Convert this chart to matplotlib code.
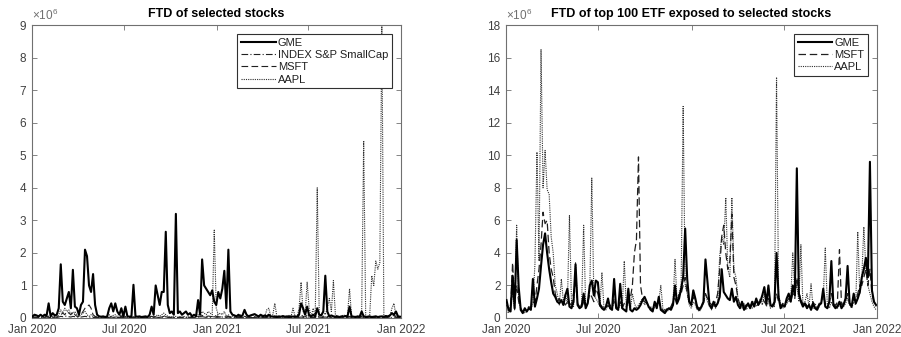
import numpy as np
import pandas as pd
import matplotlib
matplotlib.use("Agg")
import matplotlib.pyplot as plt
import matplotlib.dates as mdates

plt.rcParams['font.family'] = ['Liberation Sans', 'DejaVu Sans']
plt.rcParams['mathtext.fontset'] = 'custom'
plt.rcParams['mathtext.rm'] = 'Liberation Sans'

# sampling dates (every 4 days), values in millions of shares
dates = pd.date_range("2020-01-02", periods=183, freq="4D")

# ---- left panel: FTD of selected stocks
gme_left = [
    0.05, 0.1, 0.08, 0.05, 0.1, 0.05, 0.1, 0.08, 0.45, 0.05,
    0.15, 0.08, 0.1, 0.3, 1.65, 0.5, 0.4, 0.6, 0.8, 0.3,
    1.48, 0.35, 0.3, 0.1, 0.4, 0.5, 2.1, 1.9, 1.0, 0.8,
    1.35, 0.4, 0.1, 0.05, 0.04, 0.05, 0.03, 0.05, 0.3, 0.45,
    0.2, 0.45, 0.2, 0.1, 0.3, 0.05, 0.35, 0.05, 0.04, 0.05,
    1.02, 0.05, 0.04, 0.05, 0.03, 0.04, 0.05, 0.03, 0.1, 0.35,
    0.1, 1.0, 0.7, 0.4, 0.8, 0.8, 2.65, 0.4, 0.15, 0.2,
    0.1, 3.2, 0.15, 0.2, 0.1, 0.15, 0.2, 0.1, 0.15, 0.05,
    0.1, 0.05, 0.55, 0.1, 1.8, 1.0, 0.9, 0.8, 0.7, 0.85,
    0.5, 0.4, 0.8, 0.6, 0.9, 1.45, 0.3, 2.1, 0.2, 0.1,
    0.08, 0.05, 0.1, 0.05, 0.08, 0.25, 0.1, 0.05, 0.08, 0.1,
    0.12, 0.08, 0.05, 0.1, 0.05, 0.08, 0.05, 0.1, 0.05, 0.04,
    0.05, 0.03, 0.05, 0.04, 0.06, 0.04, 0.05, 0.03, 0.05, 0.04,
    0.05, 0.04, 0.1, 0.45, 0.3, 0.1, 0.35, 0.08, 0.05, 0.1,
    0.05, 0.3, 0.1, 0.08, 0.2, 1.3, 0.2, 0.05, 0.08, 0.05,
    0.04, 0.05, 0.03, 0.05, 0.04, 0.06, 0.05, 0.35, 0.05, 0.04,
    0.03, 0.05, 0.04, 0.2, 0.05, 0.03, 0.04, 0.05, 0.03, 0.04,
    0.05, 0.03, 0.04, 0.05, 0.04, 0.06, 0.05, 0.08, 0.15, 0.1,
    0.2, 0.05, 0.04,
]
index_left = [
    0.02, 0.01, 0.02, 0.01, 0.02, 0.01, 0.02, 0.03, 0.02, 0.01,
    0.02, 0.01, 0.02, 0.03, 0.05, 0.04, 0.06, 0.05, 0.04, 0.03,
    0.05, 0.04, 0.03, 0.02, 0.03, 0.04, 0.05, 0.04, 0.03, 0.02,
    0.02, 0.01, 0.02, 0.01, 0.02, 0.01, 0.02, 0.01, 0.02, 0.03,
    0.02, 0.01, 0.02, 0.01, 0.02, 0.01, 0.02, 0.01, 0.02, 0.01,
    0.02, 0.01, 0.02, 0.01, 0.02, 0.01, 0.02, 0.01, 0.02, 0.03,
    0.02, 0.03, 0.02, 0.01, 0.02, 0.03, 0.04, 0.02, 0.01, 0.02,
    0.01, 0.02, 0.01, 0.02, 0.01, 0.02, 0.01, 0.02, 0.01, 0.02,
    0.01, 0.02, 0.03, 0.02, 0.04, 0.03, 0.02, 0.03, 0.02, 0.03,
    0.04, 0.02, 0.03, 0.02, 0.03, 0.04, 0.02, 0.03, 0.02, 0.01,
    0.02, 0.01, 0.02, 0.01, 0.02, 0.01, 0.02, 0.01, 0.02, 0.01,
    0.02, 0.01, 0.02, 0.01, 0.02, 0.01, 0.02, 0.01, 0.02, 0.01,
    0.02, 0.01, 0.02, 0.01, 0.02, 0.01, 0.02, 0.01, 0.02, 0.01,
    0.02, 0.01, 0.02, 0.03, 0.02, 0.01, 0.02, 0.01, 0.02, 0.01,
    0.02, 0.03, 0.02, 0.01, 0.02, 0.03, 0.02, 0.01, 0.02, 0.01,
    0.02, 0.01, 0.02, 0.01, 0.02, 0.01, 0.02, 0.03, 0.02, 0.01,
    0.02, 0.01, 0.02, 0.03, 0.02, 0.01, 0.02, 0.01, 0.02, 0.01,
    0.02, 0.01, 0.02, 0.01, 0.02, 0.01, 0.02, 0.01, 0.02, 0.03,
    0.02, 0.01, 0.02,
]
msft_left = [
    0.02, 0.03, 0.02, 0.03, 0.02, 0.03, 0.02, 0.05, 0.03, 0.02,
    0.03, 0.02, 0.03, 0.05, 0.1, 0.15, 0.1, 0.2, 0.15, 0.1,
    0.2, 0.1, 0.05, 0.05, 0.1, 0.2, 0.3, 0.35, 0.4, 0.3,
    0.1, 0.05, 0.03, 0.02, 0.03, 0.02, 0.03, 0.02, 0.05, 0.03,
    0.02, 0.03, 0.02, 0.03, 0.05, 0.02, 0.03, 0.02, 0.03, 0.02,
    0.03, 0.02, 0.03, 0.02, 0.03, 0.02, 0.03, 0.02, 0.03, 0.05,
    0.03, 0.05, 0.03, 0.02, 0.03, 0.05, 0.08, 0.03, 0.02, 0.03,
    0.02, 0.03, 0.02, 0.03, 0.02, 0.03, 0.02, 0.03, 0.02, 0.03,
    0.02, 0.03, 0.05, 0.03, 0.08, 0.05, 0.04, 0.06, 0.05, 0.04,
    0.1, 0.05, 0.04, 0.03, 0.05, 0.04, 0.03, 0.05, 0.03, 0.02,
    0.03, 0.02, 0.03, 0.02, 0.03, 0.05, 0.03, 0.02, 0.03, 0.02,
    0.03, 0.02, 0.03, 0.02, 0.03, 0.02, 0.05, 0.03, 0.02, 0.03,
    0.05, 0.02, 0.03, 0.02, 0.03, 0.02, 0.03, 0.02, 0.03, 0.05,
    0.02, 0.03, 0.05, 0.1, 0.05, 0.03, 0.08, 0.03, 0.02, 0.03,
    0.02, 0.1, 0.03, 0.02, 0.05, 0.08, 0.05, 0.03, 0.02, 0.05,
    0.03, 0.02, 0.03, 0.02, 0.03, 0.02, 0.03, 0.05, 0.02, 0.03,
    0.02, 0.03, 0.02, 0.05, 0.1, 0.03, 0.02, 0.03, 0.05, 0.04,
    0.05, 0.04, 0.05, 0.08, 0.03, 0.02, 0.03, 0.02, 0.05, 0.08,
    0.03, 0.02, 0.03,
]
aapl_left = [
    0.02, 0.03, 0.02, 0.05, 0.02, 0.03, 0.02, 0.1, 0.05, 0.02,
    0.03, 0.05, 0.02, 0.1, 0.25, 0.15, 0.3, 0.2, 0.25, 0.1,
    0.15, 0.2, 0.1, 0.05, 0.1, 0.15, 0.2, 0.1, 0.05, 0.1,
    0.05, 0.03, 0.02, 0.03, 0.02, 0.03, 0.02, 0.05, 0.1, 0.05,
    0.08, 0.1, 0.05, 0.03, 0.1, 0.02, 0.05, 0.02, 0.03, 0.02,
    0.03, 0.02, 0.03, 0.02, 0.03, 0.02, 0.05, 0.02, 0.03, 0.05,
    0.02, 0.05, 0.1, 0.05, 0.1, 0.15, 0.1, 0.05, 0.03, 0.02,
    0.03, 0.05, 0.02, 0.03, 0.02, 0.05, 0.03, 0.02, 0.03, 0.02,
    0.03, 0.02, 0.1, 0.05, 0.2, 0.15, 0.1, 0.2, 0.15, 0.1,
    2.7, 0.3, 0.1, 0.15, 0.1, 0.2, 0.05, 0.1, 0.03, 0.05,
    0.03, 0.02, 0.05, 0.1, 0.02, 0.05, 0.03, 0.02, 0.05, 0.1,
    0.05, 0.03, 0.05, 0.02, 0.1, 0.03, 0.25, 0.3, 0.05, 0.1,
    0.45, 0.05, 0.03, 0.02, 0.05, 0.03, 0.02, 0.1, 0.03, 0.3,
    0.05, 0.02, 0.3, 1.1, 0.2, 0.1, 1.1, 0.3, 0.05, 0.3,
    0.05, 4.0, 0.1, 0.05, 0.2, 0.1, 0.3, 0.6, 0.2, 1.15,
    0.1, 0.05, 0.03, 0.05, 0.1, 0.05, 0.1, 0.9, 0.05, 0.03,
    0.05, 0.02, 0.05, 0.1, 5.45, 0.05, 0.03, 0.1, 1.3, 1.0,
    1.75, 1.5, 1.7, 9.0, 0.1, 0.05, 0.03, 0.05, 0.3, 0.45,
    0.05, 0.03, 0.02,
]

# ---- right panel: FTD of top 100 ETF exposed to selected stocks
gme_right = [
    1.1, 0.5, 0.4, 2.6, 0.6, 4.8, 1.9, 0.5, 0.3, 0.6,
    0.4, 0.6, 0.5, 2.4, 0.7, 1.2, 1.8, 3.2, 4.5, 5.2,
    4.0, 3.0, 2.2, 1.5, 1.3, 1.0, 0.9, 1.1, 0.8, 1.4,
    1.8, 0.7, 0.6, 1.0, 3.3, 0.8, 0.6, 0.7, 1.5, 0.6,
    0.9, 2.0, 2.3, 1.4, 2.3, 2.2, 0.8, 0.6, 0.5, 0.7,
    1.2, 0.6, 0.5, 2.4, 0.6, 0.5, 2.1, 0.6, 0.5, 0.4,
    1.8, 0.5, 0.4, 0.6, 0.5, 0.6, 0.8, 1.1, 1.3, 1.0,
    0.7, 0.5, 0.4, 1.0, 0.6, 1.3, 0.5, 0.4, 0.3, 0.5,
    0.6, 0.5, 0.8, 2.0, 0.9, 1.2, 1.8, 2.5, 5.5, 2.4,
    1.0, 0.8, 1.7, 1.2, 0.6, 0.5, 0.7, 1.0, 3.6, 2.2,
    0.8, 0.6, 1.0, 0.7, 0.9, 1.3, 3.0, 1.6, 1.4, 1.2,
    1.1, 1.8, 1.0, 1.3, 0.8, 0.6, 1.0, 0.5, 0.7, 0.9,
    0.6, 1.0, 0.7, 1.2, 0.8, 1.0, 1.4, 1.9, 0.9, 2.0,
    0.8, 0.7, 1.0, 4.0, 1.3, 0.6, 0.8, 0.7, 1.2, 1.5,
    1.0, 2.0, 1.4, 9.2, 1.5, 1.0, 0.7, 0.9, 0.6, 0.8,
    0.5, 0.9, 0.6, 0.5, 0.8, 0.9, 1.8, 0.7, 0.6, 1.0,
    3.5, 0.8, 0.6, 0.7, 1.0, 0.6, 0.8, 1.2, 3.2, 0.9,
    0.7, 1.5, 0.9, 1.2, 1.6, 2.5, 3.0, 3.7, 2.5, 9.6,
    1.7, 1.0, 0.8,
]
msft_right = [
    0.8, 0.6, 0.5, 3.4, 0.9, 2.0, 1.0, 0.6, 0.4, 0.5,
    0.5, 0.7, 0.6, 1.0, 0.9, 2.0, 3.0, 4.5, 6.5, 5.8,
    6.0, 4.0, 3.0, 2.5, 1.5, 1.0, 1.2, 0.9, 1.0, 0.8,
    1.0, 0.9, 0.8, 1.5, 2.2, 0.9, 0.7, 0.6, 1.0, 0.8,
    0.9, 1.5, 1.3, 1.0, 1.8, 1.5, 0.9, 0.7, 0.6, 0.8,
    0.7, 0.8, 0.6, 1.2, 0.7, 0.5, 1.0, 0.6, 0.9, 0.7,
    1.0, 1.2, 2.0, 4.0, 4.8, 9.9, 2.0, 1.2, 1.0, 0.9,
    0.8, 0.6, 0.5, 0.7, 0.9, 1.0, 0.6, 0.5, 0.4, 0.6,
    0.5, 0.7, 1.0, 1.2, 0.8, 1.5, 1.5, 2.0, 2.5, 1.5,
    1.0, 0.9, 1.3, 1.0, 0.7, 0.6, 0.8, 0.9, 1.5, 1.2,
    1.0, 0.8, 0.9, 1.0, 1.5, 3.0, 5.0, 5.7, 4.0, 3.0,
    3.5, 6.4, 2.5, 2.0, 1.2, 0.8, 1.0, 0.7, 0.8, 0.9,
    0.7, 0.9, 0.8, 1.0, 0.9, 1.1, 1.2, 1.0, 0.8, 1.2,
    0.9, 0.8, 0.9, 1.5, 1.0, 0.7, 0.9, 0.8, 1.0, 1.2,
    1.0, 1.5, 1.2, 2.5, 1.5, 1.2, 0.8, 1.0, 0.7, 0.8,
    0.6, 1.0, 0.7, 0.6, 0.9, 1.0, 1.5, 0.8, 0.7, 1.0,
    1.5, 0.9, 0.7, 1.0, 4.2, 0.8, 0.9, 1.0, 1.5, 0.9,
    0.8, 1.2, 1.0, 1.5, 2.0, 2.0, 2.5, 3.0, 2.0, 3.0,
    1.5, 1.0, 0.7,
]
aapl_right = [
    0.5, 0.3, 0.8, 1.5, 0.5, 5.7, 1.0, 0.6, 0.4, 0.3,
    0.4, 0.6, 0.5, 1.0, 3.3, 10.2, 3.5, 16.5, 8.0, 10.3,
    7.9, 7.6, 5.0, 4.0, 2.0, 1.5, 0.8, 2.4, 1.0, 1.5,
    0.9, 6.3, 1.0, 0.7, 3.4, 0.8, 0.6, 0.9, 5.7, 0.7,
    1.0, 1.6, 8.6, 1.5, 1.2, 1.0, 0.7, 2.8, 0.6, 0.5,
    0.8, 0.7, 0.6, 1.0, 0.8, 0.5, 0.9, 0.6, 3.5, 0.7,
    1.0, 0.5, 1.5, 0.9, 0.6, 0.8, 1.0, 1.2, 0.8, 1.0,
    0.6, 0.7, 0.5, 0.9, 0.8, 1.0, 2.0, 0.6, 0.5, 0.4,
    0.5, 0.7, 0.9, 3.6, 1.0, 1.5, 2.0, 13.0, 2.0, 1.5,
    0.8, 0.6, 1.0, 0.8, 0.5, 0.4, 0.6, 0.9, 1.5, 1.0,
    0.7, 0.5, 0.8, 0.6, 1.0, 3.8, 5.0, 4.5, 7.4, 3.0,
    2.5, 7.4, 3.0, 2.5, 1.2, 0.8, 0.6, 0.9, 0.5, 0.7,
    0.8, 0.6, 1.0, 0.7, 0.9, 1.2, 0.8, 1.5, 0.7, 1.0,
    0.6, 0.9, 0.7, 14.8, 1.5, 0.8, 0.6, 0.7, 0.9, 1.0,
    1.2, 4.0, 1.5, 2.0, 1.0, 4.5, 0.8, 1.0, 1.5, 0.7,
    2.1, 0.6, 0.9, 0.5, 0.7, 1.0, 1.2, 4.3, 0.8, 0.6,
    1.0, 0.7, 0.9, 0.6, 0.8, 1.0, 0.7, 0.9, 1.2, 0.8,
    0.6, 1.0, 0.8, 5.3, 1.5, 2.5, 5.6, 3.0, 2.0, 1.5,
    1.0, 0.7, 0.5,
]

axis_grey = '#707070'
text_grey = '#404040'

fig = plt.figure(figsize=(9.01, 3.37), dpi=100)
ax1 = fig.add_axes([0.0355, 0.0564, 0.4096, 0.869])
ax2 = fig.add_axes([0.5616, 0.0564, 0.4118, 0.869])


def style_axes(ax, ymax, step, title):
    ax.set_xlim(pd.Timestamp("2020-01-01"), pd.Timestamp("2022-01-01"))
    ax.set_ylim(0, ymax)
    ax.set_yticks(np.arange(0, ymax + 1, step))
    ticks = pd.to_datetime(["2020-01-01", "2020-07-01", "2021-01-01",
                            "2021-07-01", "2022-01-01"])
    ax.set_xticks(ticks)
    ax.xaxis.set_major_formatter(mdates.DateFormatter('%b %Y'))
    ax.tick_params(direction='in', length=3.5, width=0.6, top=True, right=True,
                   colors=axis_grey, labelcolor=text_grey, labelsize=8.5)
    ax.tick_params(axis='x', pad=4.5)
    ax.tick_params(axis='y', pad=4)
    for sp in ax.spines.values():
        sp.set_color(axis_grey)
        sp.set_linewidth(0.8)
    ax.set_title(title, fontsize=9, fontweight='bold', pad=6)
    ax.text(0.0, 1.006, r'$\times10^{6}$', transform=ax.transAxes,
            fontsize=8.5, color=axis_grey, ha='left', va='bottom')


def add_legend(ax, order):
    h, l = ax.get_legend_handles_labels()
    leg = ax.legend([h[i] for i in order], [l[i] for i in order], loc='upper right',
                    fontsize=8, fancybox=False, edgecolor='#303030', framealpha=1,
                    handlelength=3.1, handletextpad=0.2, borderpad=0.35,
                    labelspacing=0.2, borderaxespad=0.8)
    leg.get_frame().set_linewidth(0.8)
    for t in leg.get_texts():
        t.set_color('#202020')


# left panel
ax1.plot(dates, aapl_left, color='#303030', lw=0.8, ls=(0, (1, 1)), label='AAPL', zorder=2)
ax1.plot(dates, msft_left, color='#202020', lw=0.8, ls=(0, (6, 3)), label='MSFT', zorder=3)
ax1.plot(dates, index_left, color='#202020', lw=0.8, ls=(0, (6, 2, 1, 2)),
         label='INDEX S&P SmallCap', zorder=3)
ax1.plot(dates, gme_left, color='black', lw=1.5, label='GME', zorder=4)
style_axes(ax1, 9, 1, 'FTD of selected stocks')
add_legend(ax1, [3, 2, 1, 0])

# right panel
ax2.plot(dates, aapl_right, color='#303030', lw=0.8, ls=(0, (1, 1)), label='AAPL', zorder=2)
ax2.plot(dates, msft_right, color='#202020', lw=0.9, ls=(0, (6, 3)), label='MSFT', zorder=3)
ax2.plot(dates, gme_right, color='black', lw=1.5, label='GME', zorder=4)
style_axes(ax2, 18, 2, 'FTD of top 100 ETF exposed to selected stocks')
add_legend(ax2, [2, 1, 0])

fig.savefig('out.png', dpi=100)
